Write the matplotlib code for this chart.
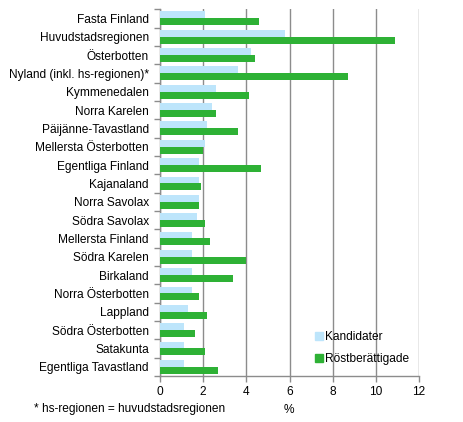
import numpy as np
import matplotlib
matplotlib.use('Agg')
import matplotlib.pyplot as plt
from matplotlib.lines import Line2D

plt.rcParams['font.family'] = ['Liberation Sans', 'DejaVu Sans']

regions = ['Fasta Finland', 'Huvudstadsregionen', 'Österbotten', 'Nyland (inkl. hs-regionen)*',
           'Kymmenedalen', 'Norra Karelen', 'Päijänne-Tavastland', 'Mellersta Österbotten',
           'Egentliga Finland', 'Kajanaland', 'Norra Savolax', 'Södra Savolax',
           'Mellersta Finland', 'Södra Karelen', 'Birkaland', 'Norra Österbotten',
           'Lappland', 'Södra Österbotten', 'Satakunta', 'Egentliga Tavastland']
kandidater = [2.1, 5.8, 4.2, 3.6, 2.6, 2.4, 2.2, 2.1, 1.8, 1.8,
              1.8, 1.7, 1.5, 1.5, 1.5, 1.5, 1.3, 1.1, 1.1, 1.1]
rostberattigade = [4.6, 10.9, 4.4, 8.7, 4.1, 2.6, 3.6, 2.0, 4.7, 1.9,
                   1.8, 2.1, 2.3, 4.0, 3.4, 1.8, 2.2, 1.6, 2.1, 2.7]

blue = '#bde5fb'
green = '#2eb135'
grey = '#8c8c8c'
fs = 8.6

fig = plt.figure(figsize=(4.63, 4.22), dpi=100)
ax = fig.add_axes([0.3456, 0.109, 0.5594, 0.869])

y = np.arange(len(regions))
h = 0.38
ax.barh(y - h/2, kandidater, height=h, color=blue, zorder=3)
ax.barh(y + h/2, rostberattigade, height=h, color=green, zorder=3)

ax.set_ylim(len(regions) - 0.5, -0.5)
ax.set_xlim(0, 12)
ax.set_xticks(range(0, 13, 2))
ax.set_yticks(np.arange(-0.5, len(regions), 1.0))
ax.set_yticklabels([])
ax.set_yticks(y, minor=True)
ax.set_yticklabels(regions, minor=True)
ax.tick_params(axis='y', which='major', length=4, color=grey, width=1)
ax.tick_params(axis='y', which='minor', length=0, pad=8, labelsize=fs)
ax.tick_params(axis='x', length=4, color=grey, width=1, labelsize=fs, pad=3)

ax.grid(axis='x', color=grey, linewidth=1, zorder=0)
for s in ['top', 'right']:
    ax.spines[s].set_visible(False)
for s in ['left', 'bottom']:
    ax.spines[s].set_color(grey)
    ax.spines[s].set_linewidth(1)

handles = [Line2D([], [], marker='s', linestyle='none', markersize=5.5, color=blue),
           Line2D([], [], marker='s', linestyle='none', markersize=5.5, color=green)]
ax.legend(handles, ['Kandidater', 'Röstberättigade'], loc='lower left',
          bbox_to_anchor=(0.55, 0.0), frameon=False, fontsize=fs,
          handletextpad=0.0, labelspacing=0.85, handlelength=1.0,
          borderpad=0.4)

fig.text(0.073, 0.031, '* hs-regionen = huvudstadsregionen', fontsize=fs, va='center')
fig.text(0.624, 0.028, '%', fontsize=fs, va='center', ha='center')

fig.savefig('out.png', dpi=100)
